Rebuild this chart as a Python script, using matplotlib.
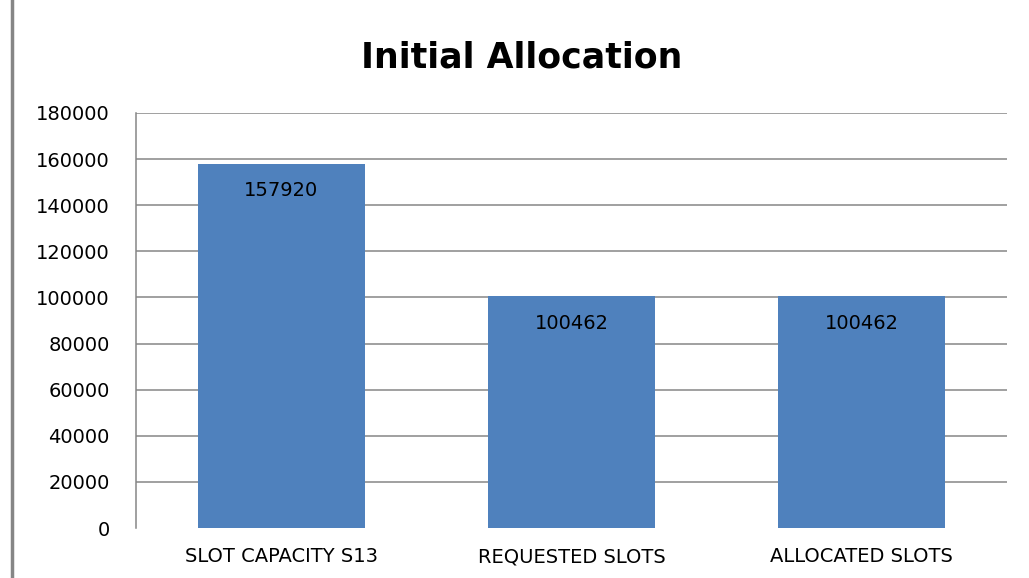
import matplotlib
matplotlib.use('Agg')
import matplotlib.pyplot as plt
from matplotlib.lines import Line2D

categories = ['SLOT CAPACITY S13', 'REQUESTED SLOTS', 'ALLOCATED SLOTS']
values = [157920, 100462, 100462]
yticks = list(range(0, 180001, 20000))

plt.rcParams['font.family'] = ['DejaVu Sans']

fig = plt.figure(figsize=(10.29, 5.78), dpi=100)
ax = fig.add_axes([0.1322, 0.0865, 0.8465, 0.718])

x = range(len(categories))
ax.bar(x, values, width=0.575, color='#4F81BD', zorder=3)
for xi, v in zip(x, values):
    ax.annotate(str(v), (xi, v), xytext=(0, -27), textcoords='offset pixels',
                ha='center', va='center', fontsize=14, color='black', zorder=4)

ax.set_xlim(-0.5, len(categories) - 0.5)
ax.set_ylim(0, 180000)
ax.set_yticks(yticks)
ax.set_yticklabels([str(t) for t in yticks])
ax.set_xticks(list(x))
ax.set_xticklabels(categories)
ax.tick_params(axis='y', length=0, pad=19, labelsize=14)
ax.tick_params(axis='x', length=0, pad=14, labelsize=14)

ax.grid(axis='y', color='#868686', linewidth=1.1, zorder=0)
ax.get_ygridlines()[0].set_visible(False)
for s in ['top', 'right', 'bottom']:
    ax.spines[s].set_visible(False)
ax.spines['left'].set_color('#868686')
ax.spines['left'].set_linewidth(1.1)

fig.text(0.507, 0.9, 'Initial Allocation', ha='center', va='center',
         fontsize=25, fontweight='bold')

# chart frame edge on the left
fig.add_artist(Line2D([12 / 1029, 12 / 1029], [0, 1], color='#868686', linewidth=2.5,
                      transform=fig.transFigure))

fig.savefig('out.png', dpi=100)
